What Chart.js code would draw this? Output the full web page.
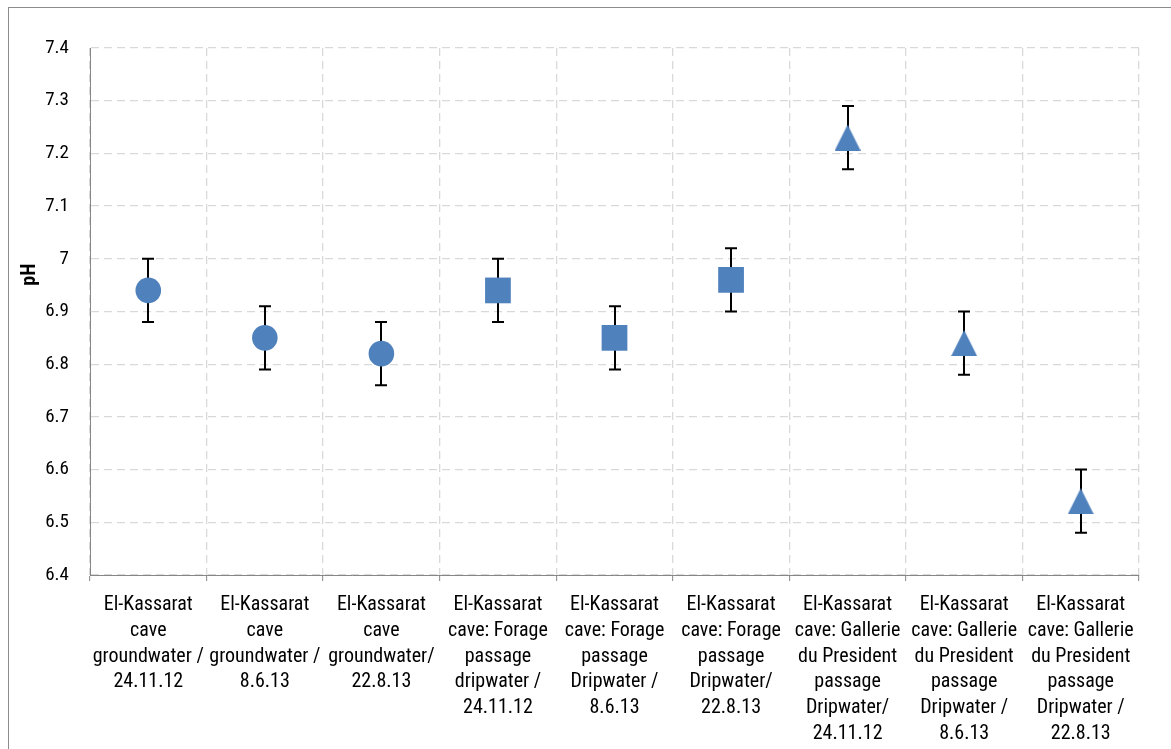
<!DOCTYPE html>
<html>
<head>
<meta charset="utf-8">
<title>pH of El-Kassarat cave waters</title>
<script src="https://cdn.jsdelivr.net/npm/chart.js@4.4.1/dist/chart.umd.min.js"></script>
<style>
  html, body { margin: 0; padding: 0; background: #fff; overflow: hidden; }
  #wrap { position: relative; width: 1171px; height: 749px; }
  #frame { position: absolute; left: 8px; top: 7px; width: 1300px; height: 900px;
           border: 1px solid #8c8c8c; box-sizing: border-box; }
  #chart { position: absolute; left: 0; top: 0; }
</style>
</head>
<body>
<div id="wrap">
  <div id="frame"></div>
  <canvas id="chart" width="1171" height="749"></canvas>
</div>
<script>
// Sampling sites and dates (one multi-line label per site)
const categories = [
  ['El-Kassarat', 'cave', 'groundwater /', '24.11.12'],
  ['El-Kassarat', 'cave', 'groundwater /', '8.6.13'],
  ['El-Kassarat', 'cave', 'groundwater/', '22.8.13'],
  ['El-Kassarat', 'cave: Forage', 'passage', 'dripwater /', '24.11.12'],
  ['El-Kassarat', 'cave: Forage', 'passage', 'Dripwater /', '8.6.13'],
  ['El-Kassarat', 'cave: Forage', 'passage', 'Dripwater/', '22.8.13'],
  ['El-Kassarat', 'cave: Gallerie', 'du President', 'passage', 'Dripwater/', '24.11.12'],
  ['El-Kassarat', 'cave: Gallerie', 'du President', 'passage', 'Dripwater /', '8.6.13'],
  ['El-Kassarat', 'cave: Gallerie', 'du President', 'passage', 'Dripwater /', '22.8.13']
];

// Mean pH and its error (±)
const phValues = [6.94, 6.85, 6.82, 6.94, 6.85, 6.96, 7.23, 6.84, 6.54];
const phErrors = [0.06, 0.06, 0.06, 0.06, 0.06, 0.06, 0.06, 0.06, 0.06];

// Marker group per site: groundwater, Forage passage, Gallerie du President
const siteGroups = ['ground', 'ground', 'ground', 'forage', 'forage', 'forage', 'gallerie', 'gallerie', 'gallerie'];

// Axis range
const yMin = 6.4;
const yMax = 7.4;
const yStep = 0.1;

const BLUE = '#4F81BD';
const FONT = "'Liberation Sans Narrow', 'Arial Narrow', 'Roboto Condensed', sans-serif";

// Triangle marker whose bounding box is centred on the value
function triangleMarker(w, h) {
  const c = document.createElement('canvas');
  c.width = w; c.height = h;
  const g = c.getContext('2d');
  g.fillStyle = BLUE;
  g.beginPath();
  g.moveTo(w / 2, 0);
  g.lineTo(w, h);
  g.lineTo(0, h);
  g.closePath();
  g.fill();
  return c;
}
const tri = triangleMarker(26, 26);

const styleByGroup = {
  ground:   { style: 'circle', radius: 12.8 },
  forage:   { style: 'rect',   radius: 18.2 },
  gallerie: { style: tri,      radius: 13 }
};

// Vertical error bars with end caps, drawn under the markers
const errorBars = {
  id: 'errorBars',
  beforeDatasetsDraw(chart) {
    const ctx = chart.ctx;
    const xs = chart.scales.x, ys = chart.scales.y;
    ctx.save();
    ctx.strokeStyle = '#000';
    ctx.lineWidth = 2;
    const cap = 6;
    phValues.forEach((v, i) => {
      const x = Math.round(xs.getPixelForValue(i));
      const yt = ys.getPixelForValue(v + phErrors[i]);
      const yb = ys.getPixelForValue(v - phErrors[i]);
      ctx.beginPath();
      ctx.moveTo(x, yt); ctx.lineTo(x, yb);
      ctx.moveTo(x - cap, yt); ctx.lineTo(x + cap, yt);
      ctx.moveTo(x - cap, yb); ctx.lineTo(x + cap, yb);
      ctx.stroke();
    });
    ctx.restore();
  }
};

// Rotated y-axis title
const yTitle = {
  id: 'yTitle',
  afterDraw(chart) {
    const ctx = chart.ctx;
    const a = chart.chartArea;
    ctx.save();
    ctx.translate(30, a.top + (a.bottom - a.top) * 0.43);
    ctx.rotate(-Math.PI / 2);
    ctx.font = "bold 20px " + FONT;
    ctx.fillStyle = '#000';
    ctx.textAlign = 'center';
    ctx.textBaseline = 'middle';
    ctx.fillText('pH', 0, 0);
    ctx.restore();
  }
};

new Chart(document.getElementById('chart'), {
  type: 'line',
  data: {
    labels: categories,
    datasets: [{
      label: 'pH',
      data: phValues,
      showLine: false,
      backgroundColor: BLUE,
      borderColor: BLUE,
      borderWidth: 0,
      pointBackgroundColor: BLUE,
      pointBorderColor: BLUE,
      pointBorderWidth: 0,
      pointStyle: siteGroups.map(g => styleByGroup[g].style),
      pointRadius: siteGroups.map(g => styleByGroup[g].radius),
      pointHoverRadius: siteGroups.map(g => styleByGroup[g].radius)
    }]
  },
  options: {
    responsive: false,
    devicePixelRatio: 1,
    animation: false,
    events: [],
    layout: { padding: { left: 0, right: 32, top: 48, bottom: 0 } },
    plugins: { legend: { display: false }, tooltip: { enabled: false } },
    scales: {
      x: {
        type: 'category',
        offset: true,
        afterFit(scale) { scale.height = 174; },
        grid: {
          offset: true,
          z: -1,
          color: '#d9d9d9',
          lineWidth: 1.3,
          drawTicks: true,
          tickLength: 6,
          tickColor: '#868686',
          tickBorderDash: [],
          tickWidth: 1
        },
        border: { display: true, color: '#868686', width: 1, dash: [8, 5] },
        ticks: {
          autoSkip: false,
          maxRotation: 0,
          minRotation: 0,
          padding: 11,
          color: '#000',
          font: { family: FONT, size: 20, lineHeight: 1.29 }
        }
      },
      y: {
        min: yMin,
        max: yMax,
        afterFit(scale) { scale.width = 90; },
        grid: {
          z: -1,
          color: '#d9d9d9',
          lineWidth: 1.3,
          drawTicks: false
        },
        border: { display: true, color: '#868686', width: 1, dash: [8, 5] },
        ticks: {
          stepSize: yStep,
          padding: 21,
          color: '#000',
          font: { family: FONT, size: 19 },
          callback: v => String(parseFloat(Number(v).toFixed(1)))
        }
      }
    }
  },
  plugins: [errorBars, yTitle]
});
</script>
</body>
</html>
